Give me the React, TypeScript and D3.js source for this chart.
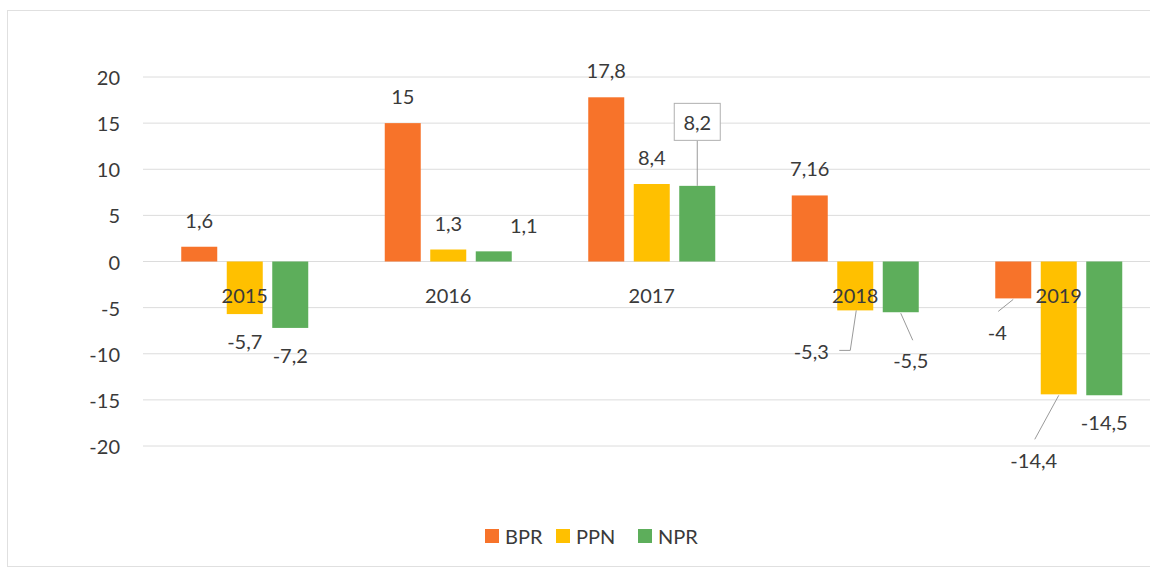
import React from "react";
import * as d3 from "d3";

const categories = ["2015", "2016", "2017", "2018", "2019"];
const seriesNames = ["BPR", "PPN", "NPR"];
const bprValues = [1.6, 15, 17.8, 7.16, -4];
const ppnValues = [-5.7, 1.3, 8.4, -5.3, -14.4];
const nprValues = [-7.2, 1.1, 8.2, -5.5, -14.5];
const bprLabels = ["1,6", "15", "17,8", "7,16", "-4"];
const ppnLabels = ["-5,7", "1,3", "8,4", "-5,3", "-14,4"];
const nprLabels = ["-7,2", "1,1", "8,2", "-5,5", "-14,5"];
const yTicks = [-20, -15, -10, -5, 0, 5, 10, 15, 20];

const colors: Record<string, string> = { BPR: "#F7732A", PPN: "#FFC000", NPR: "#5DAE5B" };
const FONT = "Lato, 'Open Sans', sans-serif";
const TEXT = "#3a3a3a";

// label placement adjustments (style only): key `${series}-${catIndex}`
type Adj = { dx: number; dy: number; leader?: "box" | "elbow" | "line"; lx?: number; ly?: number };
const adjust: Record<string, Adj> = {
  "NPR-1": { dx: 30, dy: -26 },
  "NPR-2": { dx: 0, dy: -64, leader: "box" },
  "PPN-3": { dx: -44, dy: 41, leader: "elbow" },
  "NPR-3": { dx: 10, dy: 48, leader: "line", lx: 12, ly: 28 },
  "BPR-4": { dx: -16, dy: 34, leader: "line", lx: -15, ly: 13 },
  "PPN-4": { dx: -25, dy: 66, leader: "line", lx: -24, ly: 45 },
};

export default function App() {
  const W = 1150, H = 569;
  const x0 = d3.scaleBand<string>().domain(categories).range([143, 1160.5]).paddingInner(0).paddingOuter(0);
  const bw0 = x0.bandwidth();
  const x1 = d3.scaleBand<string>().domain(seriesNames).range([bw0 / 2 - 63.5, bw0 / 2 + 63.5]).paddingInner(0.2088).paddingOuter(0);
  const y = d3.scaleLinear().domain([-20, 20]).range([446, 77]);

  const seriesData = [
    { name: "BPR", values: bprValues, labels: bprLabels },
    { name: "PPN", values: ppnValues, labels: ppnLabels },
    { name: "NPR", values: nprValues, labels: nprLabels },
  ];

  const bars: React.ReactNode[] = [];
  const labels: React.ReactNode[] = [];
  seriesData.forEach((s) => {
    s.values.forEach((v, i) => {
      const bx = (x0(categories[i]) ?? 0) + (x1(s.name) ?? 0);
      const w = x1.bandwidth();
      const y0 = y(0);
      const yv = y(v);
      bars.push(
        <rect key={`b-${s.name}-${i}`} x={bx} y={Math.min(y0, yv)} width={w} height={Math.abs(yv - y0)} fill={colors[s.name]} />
      );
      const cx = bx + w / 2;
      const end = yv;
      const a = adjust[`${s.name}-${i}`];
      const dir = v >= 0 ? -1 : 1;
      let lx = cx, ly = end + dir * 27;
      if (a) { lx = cx + a.dx; ly = end + a.dy; }
      if (a && a.leader === "box") {
        const bwid = 46, bh = 37;
        labels.push(
          <g key={`l-${s.name}-${i}`}>
            <line x1={cx} y1={ly + bh / 2} x2={cx} y2={end} stroke="#9a9a9a" strokeWidth={1} />
            <rect x={lx - bwid / 2} y={ly - bh / 2} width={bwid} height={bh} fill="#fff" stroke="#b0b0b0" strokeWidth={1} />
          </g>
        );
      } else if (a && a.leader === "elbow") {
        labels.push(
          <polyline key={`ld-${s.name}-${i}`} points={`${cx + 1},${end} ${cx - 5},${ly - 1} ${cx - 16},${ly - 1}`} fill="none" stroke="#9a9a9a" strokeWidth={1} />
        );
      } else if (a && a.leader === "line") {
        labels.push(
          <line key={`ld-${s.name}-${i}`} x1={cx} y1={end + 1} x2={cx + (a.lx ?? 0)} y2={end + (a.ly ?? 0)} stroke="#9a9a9a" strokeWidth={1} />
        );
      }
      labels.push(
        <text key={`t-${s.name}-${i}`} x={lx} y={ly} textAnchor="middle" dominantBaseline="central" fontFamily={FONT} fontSize={20} fill={TEXT}>
          {s.labels[i]}
        </text>
      );
    });
  });

  const legendX = [485, 556, 638];

  return (
    <svg width={W} height={H} style={{ position: "absolute", left: 0, top: 0, background: "#fff" }}>
      <rect x={7.5} y={10.5} width={1150} height={556} fill="#fff" stroke="#e0e0e0" strokeWidth={1} />
      {yTicks.map((t) => (
        <g key={`g-${t}`}>
          <line x1={143} x2={1160} y1={y(t)} y2={y(t)} stroke="#dcdcdc" strokeWidth={1} />
          <text x={120} y={y(t)} textAnchor="end" dominantBaseline="central" fontFamily={FONT} fontSize={20} fill={TEXT}>
            {t}
          </text>
        </g>
      ))}
      {bars}
      {categories.map((c) => (
        <text key={`c-${c}`} x={(x0(c) ?? 0) + bw0 / 2} y={295} textAnchor="middle" dominantBaseline="central" fontFamily={FONT} fontSize={20} fill={TEXT}>
          {c}
        </text>
      ))}
      {labels}
      {seriesNames.map((n, i) => (
        <g key={`lg-${n}`}>
          <rect x={legendX[i]} y={529} width={14} height={14} fill={colors[n]} />
          <text x={legendX[i] + 20} y={536} dominantBaseline="central" fontFamily={FONT} fontSize={20} fill={TEXT}>
            {n}
          </text>
        </g>
      ))}
    </svg>
  );
}
